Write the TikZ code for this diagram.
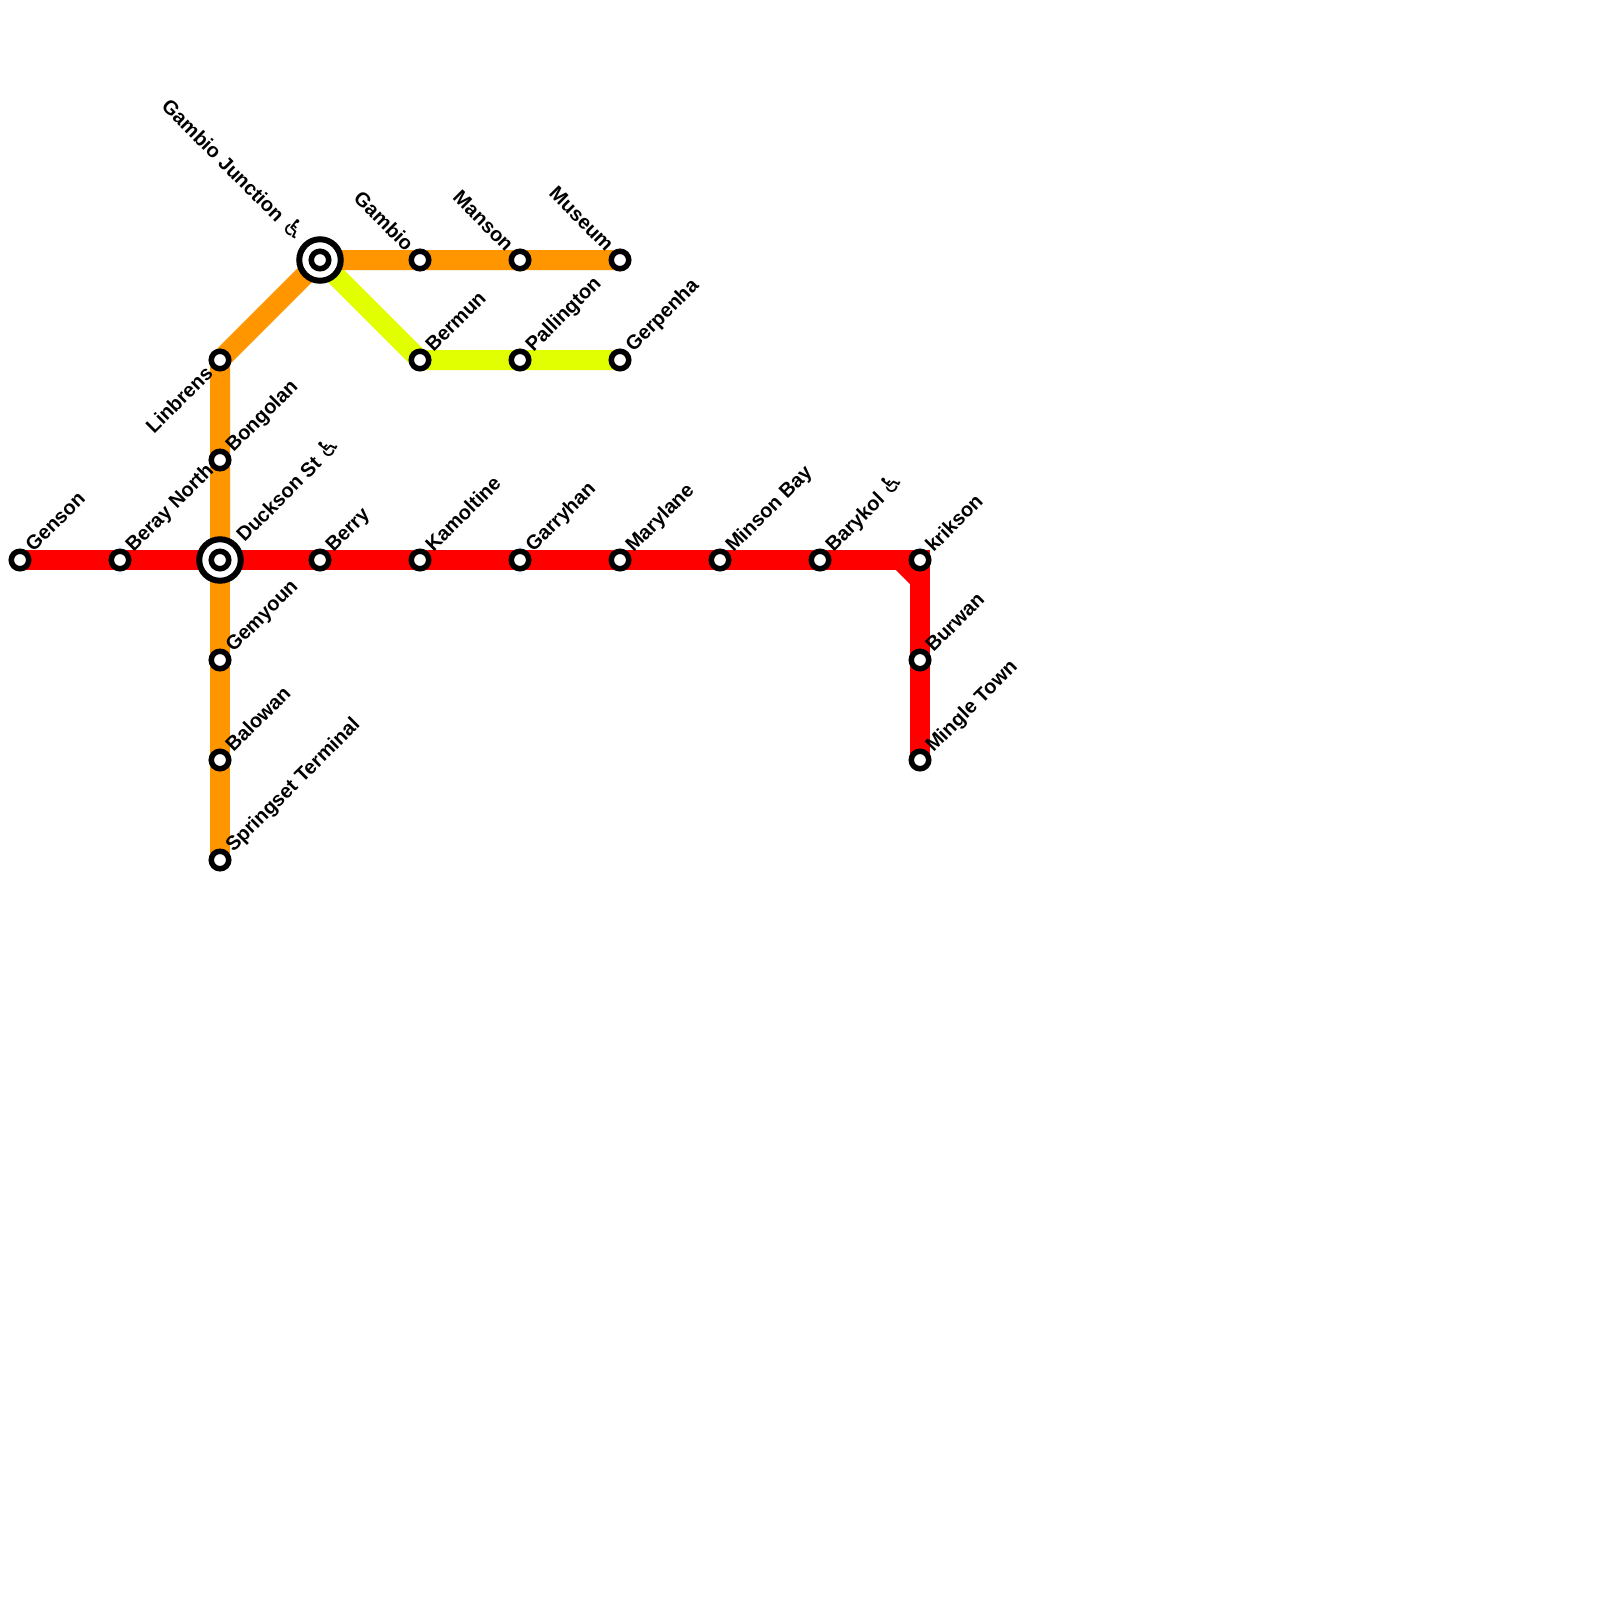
\documentclass[tikz,border=0pt]{standalone}
\usepackage{fontspec}
\setmainfont{Liberation Sans}
\newfontfamily\symfont{DejaVu Sans}[BoldFont={DejaVu Sans Bold}]
\usetikzlibrary{backgrounds}
\newcommand{\wc}{{\symfont\fontsize{25pt}{25pt}\selectfont\symbol{"267F}}}
\tikzset{
  x=1pt,y=-1pt,
  stn/.style={circle,draw=black,fill=white,line width=5.5pt,minimum size=17.5pt,inner sep=0pt,outer sep=0pt},
  hubring/.style={circle,draw=black,fill=white,line width=6pt,minimum size=41.5pt,inner sep=0pt,outer sep=0pt},
  lbl/.style={font=\fontsize{20pt}{22pt}\selectfont\bfseries,inner sep=0pt,text=black},
  ne/.style={lbl,rotate=45,anchor=base west},
  nw/.style={lbl,rotate=-45,anchor=base east},
  sw/.style={lbl,rotate=45,anchor=base east},
  metro/.style={line width=20pt,line join=miter,line cap=butt},
}
\definecolor{lred}{RGB}{255,0,0}
\definecolor{lorange}{RGB}{255,150,0}
\definecolor{lyellow}{RGB}{225,255,0}
\begin{document}
\begin{tikzpicture}
\useasboundingbox (0,0) rectangle (1600,1600);
% stations
\node[stn] (genson) at (20,560) {};
\node[stn] (beray) at (120,560) {};
\node[hubring] (ducksonring) at (220,560) {};
\node[stn] (duckson) at (220,560) {};
\node[stn] (berry) at (320,560) {};
\node[stn] (kamoltine) at (420,560) {};
\node[stn] (garryhan) at (520,560) {};
\node[stn] (marylane) at (620,560) {};
\node[stn] (minson) at (720,560) {};
\node[stn] (barykol) at (820,560) {};
\node[stn] (krikson) at (920,560) {};
\node[stn] (burwan) at (920,660) {};
\node[stn] (mingle) at (920,760) {};
\node[stn] (linbrens) at (220,360) {};
\node[stn] (bongolan) at (220,460) {};
\node[stn] (gemyoun) at (220,660) {};
\node[stn] (balowan) at (220,760) {};
\node[stn] (springset) at (220,860) {};
\node[hubring] (gambiojring) at (320,260) {};
\node[stn] (gambioj) at (320,260) {};
\node[stn] (gambio) at (420,260) {};
\node[stn] (manson) at (520,260) {};
\node[stn] (museum) at (620,260) {};
\node[stn] (bermun) at (420,360) {};
\node[stn] (pallington) at (520,360) {};
\node[stn] (gerpenha) at (620,360) {};
% lines
\begin{scope}[on background layer]
\fill[white] (0,0) rectangle (1600,1600);
\draw[metro,lyellow] (gambioj.center) -- (bermun.center) -- (pallington.center) -- (gerpenha.center);
\draw[metro,lred] (genson.center) -- (beray.center) -- (duckson.center) -- (berry.center) -- (kamoltine.center) -- (garryhan.center) -- (marylane.center) -- (minson.center) -- (barykol.center) -- (krikson.center) -- (burwan.center) -- (mingle.center);
\draw[metro,lred] ([xshift=-20pt]krikson.center) -- ([yshift=-20pt]krikson.center);
\draw[metro,lorange] (museum.center) -- (manson.center) -- (gambio.center) -- (gambioj.center) -- (linbrens.center) -- (bongolan.center) -- (duckson.center);
\draw[metro,lorange] (duckson.center) -- (gemyoun.center) -- (balowan.center) -- (springset.center);
\end{scope}
% labels
\node[ne] (t1) at (33.5,553) {Genson};
\node[ne] (t2) at (133.5,553) {Beray North};
\node[ne] (t3) at (244.5,543) {Duckson St \wc};
\node[ne] (t4) at (333.5,553) {Berry};
\node[ne] (t5) at (433.5,553) {Kamoltine};
\node[ne] (t6) at (533.5,553) {Garryhan};
\node[ne] (t7) at (633.5,553) {Marylane};
\node[ne] (t8) at (733.5,553) {Minson Bay};
\node[ne] (t9) at (833.5,553) {Barykol \wc};
\node[ne] (t10) at (933.5,553) {krikson};
\node[ne] (t11) at (933.5,653) {Burwan};
\node[ne] (t12) at (933.5,753) {Mingle Town};
\node[ne] (t13) at (233.5,453) {Bongolan};
\node[ne] (t14) at (233.5,653) {Gemyoun};
\node[ne] (t15) at (233.5,753) {Balowan};
\node[ne] (t16) at (233.5,853) {Springset Terminal};
\node[ne] (t17) at (433.5,353) {Bermun};
\node[ne] (t18) at (533.5,353) {Pallington};
\node[ne] (t19) at (633.5,353) {Gerpenha};
\node[sw] (t20) at (214,374.5) {Linbrens};
\node[nw] (t21) at (296,243) {Gambio Junction \wc};
\node[nw] (t22) at (405.5,252.5) {Gambio};
\node[nw] (t23) at (505.5,252.5) {Manson};
\node[nw] (t24) at (605.5,252.5) {Museum};
\end{tikzpicture}
\end{document}
